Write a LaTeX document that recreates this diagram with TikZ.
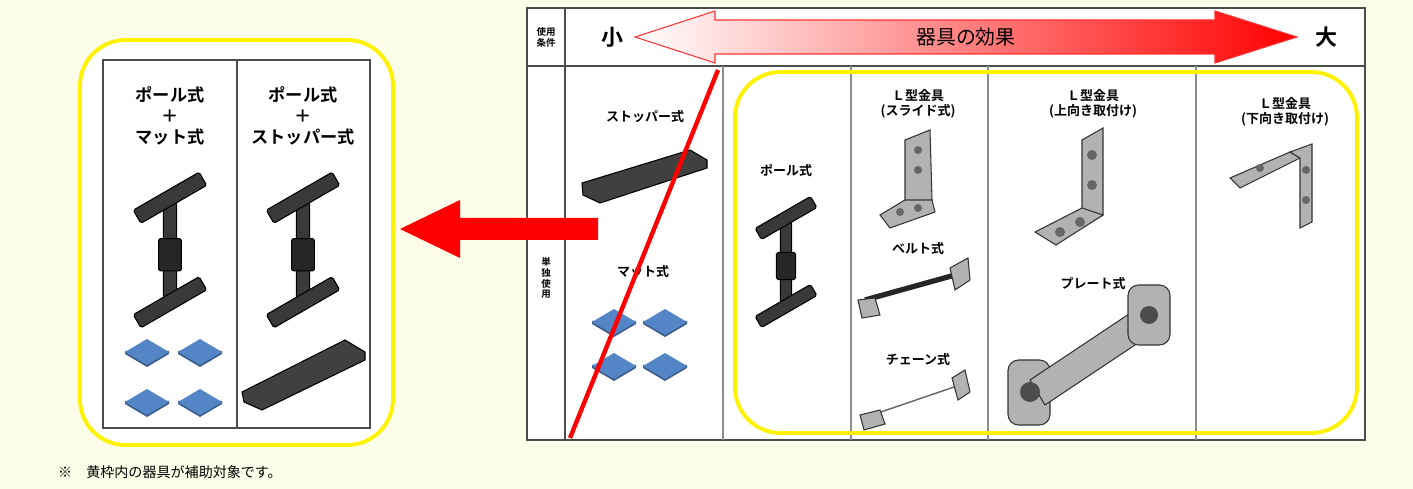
\documentclass[tikz,border=0pt]{standalone}
\usepackage{fontspec}
\setmainfont{Noto Sans CJK JP}
\newfontfamily\jpbold{Noto Sans CJK JP Bold}
\usetikzlibrary{positioning}
\definecolor{cream}{RGB}{252,253,232}
\definecolor{matblue}{RGB}{84,133,198}
\definecolor{markyellow}{RGB}{255,242,0}
\tikzset{
  metal/.style={fill=gray!45!black, draw=black, line width=0.6pt, rounded corners=1pt},
  steel/.style={fill=gray!60, draw=black!80, line width=0.6pt},
  lbl/.style={font=\jpbold\fontsize{7.4}{8.6}\selectfont, align=center},
  biglbl/.style={font=\jpbold\fontsize{9.8}{12}\selectfont, align=center},
  grid/.style={draw=black!70, line width=0.6pt},
  yframe/.style={draw=markyellow, line width=2.2pt, rounded corners=26pt},
}
% pole stand
\newcommand{\pole}[3]{%
  \begin{scope}[shift={(#1,#2)}, scale=#3]
    \draw[metal] (-7,-50) rectangle (7,50);
    \draw[metal, fill=black!85] (-12,-12) rectangle (12,22);
    \draw[metal, rotate around={30:(0,-55)}] (-40,-63) rectangle (40,-47);
    \draw[metal, rotate around={30:(0,55)}] (-40,47) rectangle (40,63);
  \end{scope}}
% mat tile
\newcommand{\mattile}[2]{%
  \fill[matblue!70!black] (#1-22,#2+2) -- (#1,#2+15) -- (#1+22,#2+2) -- (#1+22,#2-1) -- (#1-22,#2-1) -- cycle;
  \fill[matblue] (#1-22,#2) -- (#1,#2-13) -- (#1+22,#2) -- (#1,#2+13) -- cycle;}
\begin{document}
\begin{tikzpicture}[x=0.02cm, y=-0.02cm]
  \fill[cream] (0,0) rectangle (1413,489);
  \useasboundingbox (0,0) rectangle (1413,489);
  % right table
  \fill[white] (527,8) rectangle (1365,440);
  \draw[grid] (527,8) rectangle (1365,440);
  \draw[grid] (527,66) -- (1365,66);
  \draw[grid] (565,8) -- (565,440);
  \foreach \x in {723, 851, 988, 1196} {
    \draw[grid, draw=black!45] (\x,66) -- (\x,440);
  }
  % effect arrow
  \draw[red!80, line width=0.6pt, left color=white, right color=red]
    (635,37) -- (715,11) -- (715,20) -- (1215,20) -- (1215,11) -- (1297,37)
    -- (1215,63) -- (1215,54) -- (715,54) -- (715,63) -- cycle;
  \node (effect) at (966,37) {\fontsize{11.3}{13}\selectfont 器具の効果};
  \node (small) at (612,37) {\jpbold\fontsize{12.5}{14}\selectfont 小};
  \node (large) at (1326,37) {\jpbold\fontsize{12.5}{14}\selectfont 大};
  \node[lbl, font=\jpbold\fontsize{5.4}{6.2}\selectfont] (cond) at (546,37) {使用\\条件};
  \node[lbl, font=\jpbold\fontsize{5.4}{6.2}\selectfont] (alone) at (546,278) {単\\独\\使\\用};
  % column labels
  \node[lbl] (stopper) at (645,117) {ストッパー式};
  \node[lbl] (mat) at (643,272) {マット式};
  \node[lbl] (polelbl) at (786,170) {ポール式};
  \node[lbl] (slide) at (918,104) {Ｌ型金具\\(スライド式)};
  \node[lbl] (belt) at (918,249) {ベルト式};
  \node[lbl] (chain) at (918,360) {チェーン式};
  \node[lbl] (upward) at (1093,104) {Ｌ型金具\\(上向き取付け)};
  \node[lbl] (plate) at (1093,284) {プレート式};
  \node[lbl] (downward) at (1285,112) {Ｌ型金具\\(下向き取付け)};
  % stopper and mats (right)
  \draw[metal, fill=black!75, rounded corners=0pt] (582,183) -- (690,150) -- (707,160) -- (707,168) -- (600,203) -- (583,195) -- cycle;
  \mattile{614}{322} \mattile{665}{322} \mattile{614}{366} \mattile{665}{366}
  \pole{786}{262}{0.8}
  % slide bracket
  \draw[steel] (905,140) -- (930,130) -- (932,200) -- (905,212) -- cycle;
  \draw[steel] (880,215) -- (905,200) -- (932,200) -- (935,212) -- (890,228) -- cycle;
  \foreach \p in {(918,150),(918,170),(900,212),(918,208)} \fill[black!60] \p circle (4);
  % belt
  \draw[metal, line width=3pt, draw=black!85] (865,300) -- (955,275);
  \draw[steel] (950,268) -- (968,258) -- (970,280) -- (955,290) -- cycle;
  \draw[steel] (858,300) -- (875,298) -- (880,315) -- (862,318) -- cycle;
  % chain
  \draw[black!60, line width=0.8pt] (872,415) -- (960,385);
  \draw[steel] (952,378) -- (965,370) -- (970,392) -- (958,400) -- cycle;
  \draw[steel] (860,415) -- (880,410) -- (885,424) -- (864,430) -- cycle;
  % upward bracket
  \draw[steel] (1082,140) -- (1103,128) -- (1103,215) -- (1082,228) -- cycle;
  \draw[steel] (1035,232) -- (1082,208) -- (1103,215) -- (1056,245) -- cycle;
  \foreach \p in {(1092,155),(1092,185),(1060,232),(1080,222)} \fill[black!60] \p circle (5);
  % plate
  \draw[steel, rounded corners=6pt] (1008,360) rectangle (1050,425);
  \draw[steel] (1030,380) -- (1150,300) -- (1165,325) -- (1045,405) -- cycle;
  \draw[steel, rounded corners=6pt] (1128,285) rectangle (1170,345);
  \fill[black!70] (1030,392) circle (10) (1149,315) circle (9);
  % downward bracket
  \draw[steel] (1230,178) -- (1290,152) -- (1300,158) -- (1240,188) -- cycle;
  \draw[steel] (1290,152) -- (1312,144) -- (1312,222) -- (1300,228) -- (1300,158) -- cycle;
  \foreach \p in {(1306,170),(1306,200),(1260,168)} \fill[black!60] \p circle (4);
  % frames and strike-out
  \draw[yframe] (735,72) rectangle (1357,433);
  \draw[red, line width=2.5pt] (718,70) -- (570,438);
  % left panel
  \fill[white, rounded corners=26pt] (80,40) rectangle (393,445);
  \draw[grid] (103,60) rectangle (370,428);
  \draw[grid] (237,60) -- (237,428);
  \draw[yframe] (80,40) rectangle (393,445);
  \node[biglbl] (combomat) at (170,116) {ポール式\\＋\\マット式};
  \node[biglbl] (combostop) at (303,116) {ポール式\\＋\\ストッパー式};
  \pole{170}{250}{0.95}
  \pole{303}{250}{0.95}
  \mattile{147}{352} \mattile{200}{352} \mattile{147}{402} \mattile{200}{402}
  \draw[metal, fill=black!75, rounded corners=0pt] (242,392) -- (345,340) -- (365,352) -- (365,360) -- (262,410) -- (244,402) -- cycle;
  % red arrow
  \coordinate (from) at (598,229);
  \coordinate (to) at (400,229);
  \fill[red] (598,218) -- (460,218) -- (460,200) -- (to) -- (460,258) -- (460,240) -- (598,240) -- cycle;
  \node[anchor=west, font=\fontsize{8}{9.5}\selectfont] (note) at (52,472) {※\quad 黄枠内の器具が補助対象です。};
\end{tikzpicture}
\end{document}
